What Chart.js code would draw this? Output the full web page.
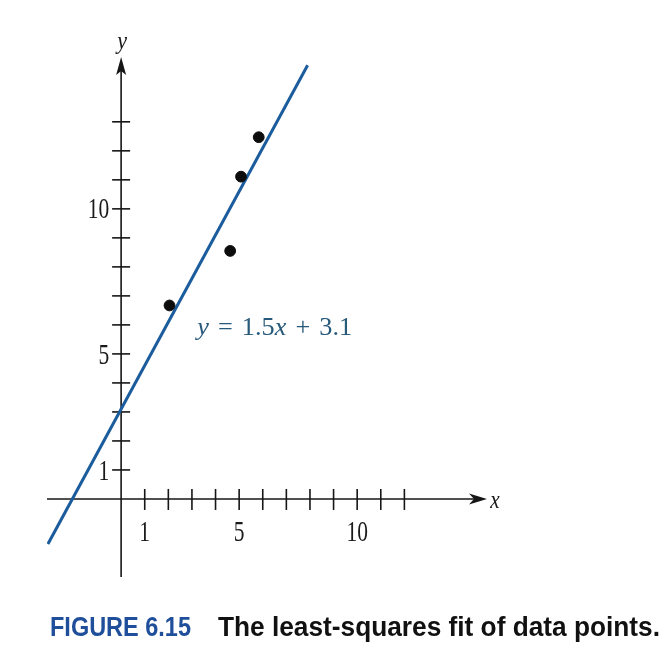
<!DOCTYPE html>
<html>
<head>
<meta charset="utf-8">
<script src="https://cdn.jsdelivr.net/npm/chart.js@4.4.1/dist/chart.umd.min.js"></script>
<style>
  html, body { margin: 0; padding: 0; background: #ffffff; }
  canvas { display: block; }
</style>
</head>
<body>
<canvas id="fig" width="667" height="672"></canvas>
<script>
// Observed data points
const pointX = [2.05, 4.62, 5.08, 5.83];
const pointY = [6.67, 8.55, 11.11, 12.47];

// Least-squares line y = fitSlope * x + fitIntercept
const fitSlope = 1.5;
const fitIntercept = 3.1;
const fitXEnds = [-3.1, 7.9];

// Axis ticks (one per unit) and the ones that carry a number
const xTicks = [1, 2, 3, 4, 5, 6, 7, 8, 9, 10, 11, 12];
const yTicks = [1, 2, 3, 4, 5, 6, 7, 8, 9, 10, 11, 12, 13];
const xTickLabels = [1, 5, 10];
const yTickLabels = [1, 5, 10];

// Caption
const captionNumber = 'FIGURE 6.15';
const captionText = 'The least-squares fit of data points.';

const fitPoints = fitXEnds.map(x => ({ x: x, y: fitSlope * x + fitIntercept }));
const dataPoints = pointX.map((x, i) => ({ x: x, y: pointY[i] }));
const equationText = [
  { t: 'y', italic: true },
  { gap: 9 }, { t: '=' }, { gap: 9 },
  { t: String(fitSlope) }, { t: 'x', italic: true },
  { gap: 9 }, { t: '+' }, { gap: 9 },
  { t: String(fitIntercept) }
];

const SERIF = '"Liberation Serif", "DejaVu Serif", serif';

// Text drawn with a horizontal squeeze to get the tall, narrow book digits
function drawSqueezed(ctx, text, px, py, align, font, sx, color) {
  ctx.save();
  ctx.font = font;
  ctx.fillStyle = color;
  ctx.textBaseline = 'middle';
  ctx.textAlign = 'left';
  const w = ctx.measureText(text).width * sx;
  let left = px;
  if (align === 'center') left = px - w / 2;
  else if (align === 'right') left = px - w;
  ctx.translate(left, py);
  ctx.scale(sx, 1);
  ctx.fillText(text, 0, 0);
  ctx.restore();
}

const figurePlugin = {
  id: 'figureAxes',
  beforeDatasetsDraw(chart) {
    const { ctx, scales: { x, y } } = chart;
    const x0 = x.getPixelForValue(0);
    const y0 = y.getPixelForValue(0);
    ctx.save();
    ctx.strokeStyle = '#161616';
    ctx.fillStyle = '#161616';
    ctx.lineWidth = 1.6;

    // horizontal axis with arrow
    ctx.beginPath();
    ctx.moveTo(x.left, y0);
    ctx.lineTo(x.right - 10, y0);
    ctx.stroke();
    ctx.beginPath();
    ctx.moveTo(x.right, y0);
    ctx.lineTo(x.right - 18, y0 - 5.5);
    ctx.lineTo(x.right - 13, y0);
    ctx.lineTo(x.right - 18, y0 + 5.5);
    ctx.closePath();
    ctx.fill();

    // vertical axis with arrow
    ctx.beginPath();
    ctx.moveTo(x0, y.bottom);
    ctx.lineTo(x0, y.top + 10);
    ctx.stroke();
    ctx.beginPath();
    ctx.moveTo(x0, y.top - 1);
    ctx.lineTo(x0 - 5, y.top + 17);
    ctx.lineTo(x0, y.top + 13);
    ctx.lineTo(x0 + 5, y.top + 17);
    ctx.closePath();
    ctx.fill();

    // tick marks crossing the axes
    ctx.lineWidth = 1.6;
    xTicks.forEach(v => {
      const px = x.getPixelForValue(v);
      ctx.beginPath();
      ctx.moveTo(px, y0 - 10);
      ctx.lineTo(px, y0 + 11);
      ctx.stroke();
    });
    yTicks.forEach(v => {
      const py = y.getPixelForValue(v);
      ctx.beginPath();
      ctx.moveTo(x0 - 9, py);
      ctx.lineTo(x0 + 9, py);
      ctx.stroke();
    });
    ctx.restore();

    // tick numbers
    const tickFont = '29px ' + SERIF;
    xTickLabels.forEach(v => {
      drawSqueezed(ctx, String(v), x.getPixelForValue(v), y0 + 34, 'center', tickFont, 0.74, '#1a1a1a');
    });
    yTickLabels.forEach(v => {
      drawSqueezed(ctx, String(v), x0 - 12, y.getPixelForValue(v) + 2, 'right', tickFont, 0.74, '#1a1a1a');
    });

    // axis names
    drawSqueezed(ctx, 'y', x0 + 1, y.top - 16, 'center', 'italic 26px ' + SERIF, 0.85, '#1a1a1a');
    drawSqueezed(ctx, 'x', x.right + 8, y0 + 2, 'center', 'italic 25px ' + SERIF, 0.85, '#1a1a1a');
  },
  afterDatasetsDraw(chart) {
    const { ctx, scales: { x, y } } = chart;
    const opts = chart.options.plugins.figureAxes;

    // equation of the fitted line
    const eqLeft = x.getPixelForValue(opts.equationAt[0]);
    const eqMid = y.getPixelForValue(opts.equationAt[1]);
    ctx.save();
    let total = 0;
    equationText.forEach(s => {
      if (s.gap) { total += s.gap; return; }
      ctx.font = (s.italic ? 'italic ' : '') + '26px ' + SERIF;
      total += ctx.measureText(s.t).width;
    });
    const sx = opts.equationWidth / total;
    ctx.translate(eqLeft, eqMid);
    ctx.scale(sx, 1);
    ctx.fillStyle = '#27597a';
    ctx.textBaseline = 'middle';
    ctx.textAlign = 'left';
    let cx = 0;
    equationText.forEach(s => {
      if (s.gap) { cx += s.gap; return; }
      ctx.font = (s.italic ? 'italic ' : '') + '26px ' + SERIF;
      ctx.fillText(s.t, cx, 0);
      cx += ctx.measureText(s.t).width;
    });
    ctx.restore();

    // caption
    ctx.save();
    ctx.textBaseline = 'alphabetic';
    ctx.textAlign = 'left';
    ctx.font = 'bold 27px "Liberation Sans Narrow", "Liberation Sans", "DejaVu Sans", sans-serif';
    ctx.fillStyle = '#1f4f9a';
    ctx.fillText(captionNumber, 50, 636, 141);
    ctx.fillStyle = '#111111';
    ctx.fillText(captionText, 218, 636, 442);
    ctx.restore();
  }
};

new Chart(document.getElementById('fig'), {
  type: 'scatter',
  data: {
    datasets: [
      {
        type: 'line',
        label: 'fit',
        data: fitPoints,
        borderColor: '#1b5c9c',
        borderWidth: 3,
        pointRadius: 0,
        fill: false,
        order: 2
      },
      {
        label: 'data',
        data: dataPoints,
        backgroundColor: '#0d0d0d',
        borderColor: '#0d0d0d',
        pointRadius: 5.4,
        pointHoverRadius: 5.4,
        order: 1
      }
    ]
  },
  options: {
    responsive: false,
    animation: false,
    layout: { padding: { left: 47, right: 180, top: 58, bottom: 95 } },
    scales: {
      x: { type: 'linear', min: -3.14, max: 15.5, display: false },
      y: { type: 'linear', min: -2.69, max: 15.2, display: false }
    },
    plugins: {
      legend: { display: false },
      tooltip: { enabled: false },
      figureAxes: { equationAt: [3.22, 5.9], equationWidth: 155 }
    }
  },
  plugins: [figurePlugin]
});
</script>
</body>
</html>
